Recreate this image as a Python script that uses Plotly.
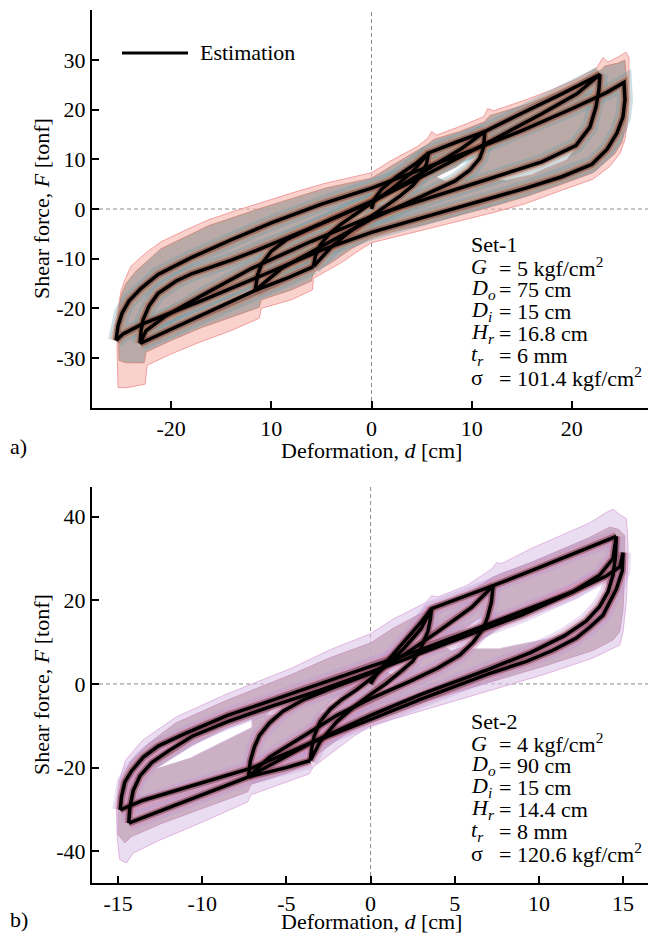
import plotly.graph_objects as go

# ---------------- data ----------------
# Set-1 estimation loops (deformation d [cm], shear force F [tonf])
S1_L6_D = [-5.8, -5.6, -5.1, -4.2, -3.0, -1.5, 0.0, 2.0, 4.0, 5.7, 5.5, 5.0, 4.1, 2.9, 1.4, 0.0, -2.0, -4.0, -5.8]
S1_L6_F = [-11.6, -9.5, -7.2, -5.0, -3.0, -0.8, 1.2, 4.0, 7.3, 11.3, 9.2, 6.9, 4.7, 2.7, 0.5, -1.5, -4.3, -7.6, -11.6]
S1_L11_D = [-11.6, -11.4, -11.0, -10.0, -8.5, -6.0, -3.0, 0.0, 3.0, 6.0, 9.0, 11.3,
            11.2, 10.8, 9.8, 8.3, 5.8, 3.0, 0.0, -3.0, -6.0, -9.0, -11.6]
S1_L11_F = [-16.4, -13.5, -11.2, -8.5, -6.2, -3.8, -1.2, 1.5, 4.8, 8.5, 12.2, 15.6,
            12.5, 10.2, 7.8, 5.6, 3.2, 0.7, -2.0, -5.3, -8.6, -12.0, -16.4]
S1_L23_D = [-23.1, -23.0, -22.8, -22.2, -21.3, -19.5, -17.9, -14.0, -11.3, -6.0, 0.0, 6.0, 12.0, 17.0, 20.5, 22.8,
            22.7, 22.4, 21.8, 20.4, 17.0, 12.1, 6.0, 0.0, -6.0, -12.0, -17.0, -20.5, -22.5, -23.1]
S1_L23_F = [-27.1, -24.5, -22.3, -19.5, -17.0, -14.5, -13.0, -10.3, -8.2, -3.8, 1.5, 7.5, 13.8, 19.2, 23.2, 27.1,
            24.0, 20.5, 16.5, 12.8, 9.5, 6.3, 2.3, -1.5, -6.5, -12.0, -17.5, -21.5, -24.5, -27.1]
S1_L25_D = [-25.5, -25.3, -24.9, -24.2, -23.0, -21.3, -18.0, -14.0, -10.0, -5.0, 0.0, 5.0, 10.0, 15.0, 20.0, 23.5, 25.2,
            25.3, 25.1, 24.5, 23.5, 22.0, 19.0, 15.4, 10.0, 5.0, 0.0, -5.0, -11.3, -17.0, -22.9, -24.8, -25.5]
S1_L25_F = [-26.5, -23.5, -21.0, -18.5, -16.0, -13.2, -9.8, -6.2, -2.8, 1.0, 4.2, 8.0, 11.8, 15.8, 20.2, 23.5, 25.5,
            22.0, 18.5, 15.3, 12.0, 9.0, 6.5, 4.2, 1.0, -1.8, -4.7, -8.3, -13.7, -18.5, -23.2, -25.2, -26.5]
S1_ENV_POS_D = [0.0, 0.3, 1.0, 2.5, 4.5, 5.7, 8.5, 11.3, 15.0, 19.0, 22.8]
S1_ENV_POS_F = [0.0, 2.0, 4.0, 6.5, 9.3, 11.3, 13.5, 15.6, 19.3, 23.2, 27.1]
S1_ENV_NEG_D = [-5.8, -8.5, -11.6, -15.0, -19.0, -23.1]
S1_ENV_NEG_F = [-11.6, -14.0, -16.4, -19.6, -23.3, -27.1]

# Set-1 simulated-ensemble envelopes (outer fringe and dense core) and white gaps
S1_OUTER_D = [-25.3, -25.4, -25.3, -25.0, -24.6, -24.0, -22.5, -21.0, -18.5, -16.3, -13.5, -11.3, -8.0, -4.6, -2.0, 0.0,
              2.1, 4.5, 5.6, 6.0, 6.5, 8.8, 11.2, 11.6, 12.2, 15.4, 18.0, 20.4, 22.5, 23.1, 23.6, 24.6, 25.4, 25.7,
              25.7, 25.6, 25.3, 24.8, 23.8, 22.1, 19.0, 15.4, 12.0, 8.8, 5.5, 2.1, 0.0, -1.2, -3.0, -4.5, -5.8, -5.9,
              -8.0, -11.0, -11.2, -14.0, -17.1, -20.0, -22.4, -22.6, -24.4, -25.3]
S1_OUTER_F = [-36.0, -28.0, -20.0, -16.5, -14.2, -11.5, -8.8, -6.6, -4.2, -2.2, -0.3, 1.1, 3.2, 5.2, 6.4, 7.3,
              9.9, 12.5, 14.2, 15.6, 14.9, 16.6, 18.6, 20.2, 19.8, 22.0, 24.0, 26.1, 28.5, 30.5, 29.6, 30.6, 31.6, 30.5,
              25.0, 18.0, 14.0, 11.2, 8.6, 6.0, 3.8, 1.1, -0.8, -2.4, -4.0, -5.6, -6.8, -8.3, -10.8, -12.5, -14.0, -16.3,
              -18.3, -20.0, -22.0, -24.5, -26.8, -29.2, -31.5, -35.3, -36.0, -36.0]
S1_CORE_D = [-25.2, -25.3, -25.0, -24.5, -23.5, -21.0, -16.3, -11.3, -4.6, 0.0, 2.1, 5.6, 6.2, 8.8, 11.3, 11.8, 15.4,
             20.4, 22.9, 23.3, 24.6, 25.3, 25.5, 25.4, 25.0, 24.3, 22.1, 19.0, 15.4, 12.0, 8.8, 5.5, 2.1, 0.0, -2.0,
             -4.0, -5.8, -6.0, -8.0, -11.0, -11.2, -14.0, -17.1, -20.0, -22.5, -22.7, -24.5, -25.2]
S1_CORE_F = [-30.5, -22.0, -17.5, -15.0, -12.5, -8.0, -3.4, 0.0, 4.2, 6.2, 8.8, 13.0, 14.0, 15.6, 17.6, 18.8, 21.0,
             25.0, 28.0, 28.8, 29.4, 30.0, 25.0, 17.0, 13.5, 11.2, 7.3, 5.0, 2.5, 0.5, -1.2, -3.0, -4.6, -5.8, -8.0,
             -10.8, -12.8, -14.5, -16.3, -18.3, -19.8, -21.8, -24.0, -26.5, -28.8, -31.0, -31.0, -30.5]
S1_GAP1_D = [6.5, 8.5, 10.8, 10.5, 9.0, 7.5]
S1_GAP1_F = [6.5, 8.5, 12.5, 9.0, 6.5, 5.5]
S1_GAP2_D = [11.5, 14.0, 17.5, 20.5, 19.5, 16.0, 13.5]
S1_GAP2_F = [6.2, 8.3, 10.0, 12.5, 10.0, 7.0, 5.8]
S1_GAP3_D = [0.5, 2.5, 4.5, 4.3, 2.8, 1.5]
S1_GAP3_F = [1.0, 3.8, 7.0, 4.2, 1.8, 0.6]
S1_GAP4_D = [-4.3, -2.5, -0.6, -1.5, -3.0]
S1_GAP4_F = [-4.2, -2.5, -0.8, -2.8, -4.6]

# Set-2 estimation loops
S2_L36_D = [-3.58, -3.5, -3.35, -3.0, -2.4, -1.7, -0.8, 0.0, 1.0, 2.0, 3.0, 3.62,
            3.55, 3.4, 3.0, 2.5, 1.8, 0.9, 0.0, -1.0, -2.0, -3.0, -3.58]
S2_L36_F = [-18.3, -15.5, -12.5, -9.0, -6.0, -3.7, -1.3, 1.2, 4.6, 8.6, 13.2, 18.0,
            15.5, 12.5, 8.7, 5.4, 3.0, 0.0, -2.5, -5.5, -9.0, -13.8, -18.3]
S2_L72_D = [-7.25, -7.15, -6.9, -6.6, -6.0, -5.2, -4.0, -2.3, 0.0, 2.0, 4.0, 6.0, 7.28,
            7.18, 6.95, 6.7, 6.1, 5.3, 4.0, 2.33, 0.0, -2.0, -4.0, -6.0, -7.25]
S2_L72_F = [-22.2, -18.5, -15.0, -12.3, -9.3, -6.5, -3.8, -1.0, 2.5, 7.0, 12.5, 18.3, 23.5,
            19.6, 16.0, 13.3, 10.0, 6.9, 3.8, 0.6, -3.5, -7.5, -12.5, -17.5, -22.2]
S2_L144_D = [-14.37, -14.3, -14.1, -13.7, -13.0, -12.0, -10.6, -8.5, -6.0, -3.0, 0.0, 3.0, 6.0, 9.0, 12.0, 13.6, 14.4, 14.6,
             14.55, 14.4, 14.1, 13.6, 12.8, 11.5, 9.5, 7.0, 5.0, 3.0, 0.0, -3.5, -7.25, -10.0, -12.5, -14.37]
S2_L144_F = [-33.3, -29.5, -25.5, -22.0, -18.8, -16.0, -12.5, -9.0, -5.5, -1.5, 2.8, 7.5, 12.0, 16.5, 22.0, 26.0, 30.0, 35.3,
             30.5, 26.0, 22.0, 18.5, 15.0, 11.5, 7.5, 3.5, 0.5, -2.5, -7.5, -14.0, -22.2, -26.5, -30.3, -33.3]
S2_L15_D = [-14.87, -14.8, -14.6, -14.2, -13.5, -12.6, -11.0, -8.5, -6.65, -4.0, -2.7, 0.0, 3.0, 6.0, 9.0, 12.0, 14.0, 14.8, 15.0,
            14.95, 14.6, 14.2, 13.8, 13.0, 12.2, 10.8, 9.26, 7.0, 5.3, 3.0, 0.0, -3.5, -7.0, -10.6, -13.5, -14.87]
S2_L15_F = [-30.1, -27.0, -23.5, -20.8, -17.5, -14.8, -11.8, -7.5, -5.0, -1.3, 0.4, 4.2, 8.2, 12.8, 17.3, 22.0, 25.8, 28.0, 31.4,
            27.0, 22.7, 19.5, 16.4, 13.5, 10.9, 8.0, 5.4, 2.4, -0.2, -3.6, -8.5, -14.0, -20.0, -24.4, -27.8, -30.1]
S2_ENV_POS_D = [0.0, 0.3, 1.0, 2.0, 3.0, 3.62, 5.0, 7.28, 10.0, 12.5, 14.6]
S2_ENV_POS_F = [0.0, 2.0, 5.5, 10.0, 14.8, 18.0, 20.0, 23.5, 27.8, 31.8, 35.3]
S2_ENV_NEG_D = [-3.58, -5.0, -7.25]
S2_ENV_NEG_F = [-18.3, -20.0, -22.2]

# Set-2 simulated-ensemble envelopes and white gaps
S2_OUTER_D = [-15.05, -15.1, -14.97, -14.57, -13.58, -11.6, -8.6, -4.67, -2.4, 0.0, 1.34, 3.3, 3.62, 4.0, 5.7, 7.2, 7.48,
              7.8, 9.5, 11.24, 13.0, 14.0, 14.4, 14.8, 15.2, 15.3, 15.2, 15.0, 14.8, 13.2, 10.25, 6.3, 2.33, 0.0, -1.0,
              -2.4, -3.4, -3.65, -5.0, -7.1, -7.3, -10.14, -12.5, -14.1, -14.5, -14.9, -15.05]
S2_OUTER_F = [-37.0, -30.0, -23.8, -18.3, -13.6, -8.0, -2.5, 3.8, 8.2, 12.0, 15.5, 19.5, 21.1, 20.8, 23.5, 27.5, 29.0,
              28.8, 32.3, 35.3, 38.5, 41.0, 41.8, 40.5, 39.5, 33.0, 20.0, 12.5, 9.3, 6.2, 2.2, -2.5, -7.3, -10.0, -12.5,
              -16.7, -19.8, -21.5, -23.5, -26.5, -28.2, -33.3, -37.3, -40.4, -42.8, -42.0, -37.0]
S2_CORE_D = [-15.0, -15.0, -14.8, -14.3, -13.3, -11.6, -8.6, -4.67, -2.4, 0.0, 1.34, 3.3, 3.7, 5.7, 7.3, 7.7, 9.5, 11.24,
             13.0, 14.2, 14.7, 15.1, 15.1, 15.0, 14.8, 14.4, 13.2, 10.25, 6.3, 2.33, 0.0, -1.0, -2.4, -3.5, -3.7, -5.0,
             -7.1, -7.3, -10.14, -12.5, -14.2, -14.6, -15.0]
S2_CORE_F = [-36.0, -28.0, -23.0, -18.8, -14.6, -9.4, -4.0, 2.3, 6.3, 9.8, 13.3, 17.5, 19.0, 21.5, 25.6, 26.3, 29.0, 32.0,
             35.0, 37.5, 37.0, 35.5, 28.0, 18.0, 12.5, 10.5, 8.0, 4.2, -0.5, -5.2, -8.0, -10.5, -14.5, -17.8, -19.3, -21.3,
             -24.0, -25.8, -30.0, -33.5, -36.5, -38.0, -36.0]
S2_GAP1_D = [-12.79, -10.61, -8.63, -7.05, -7.05, -8.63, -10.61]
S2_GAP1_F = [-20.3, -14.8, -10.8, -8.4, -10.4, -13.6, -17.5]
S2_GAP2_D = [5.9, 8.9, 11.8, 13.9, 14.3, 13.0, 10.65, 7.7]
S2_GAP2_F = [8.5, 16.8, 21.5, 25.1, 21.5, 14.4, 10.9, 8.5]
S2_GAP3_D = [4.2, 5.5, 6.6, 6.6, 5.8, 4.8]
S2_GAP3_F = [9.5, 13.0, 16.0, 12.5, 9.3, 8.0]
S2_GAP4_D = [0.7, 2.0, 3.2, 3.1, 2.3, 1.4]
S2_GAP4_F = [3.5, 6.5, 10.0, 6.5, 3.5, 2.0]
S2_GAP5_D = [-6.2, -5.5, -4.2, -3.8, -4.5, -5.5]
S2_GAP5_F = [-7.5, -4.5, -1.5, -3.0, -5.5, -7.2]
S2_GAP6_D = [-3.0, -2.3, -1.0, -1.2, -2.0]
S2_GAP6_F = [-7.0, -4.0, -1.0, -3.0, -5.5]

# Tick labels as printed in the reference
S1_XTICKS = [-20, -10, 0, 10, 20]
S1_XTEXT = ["-20", "10", "0", "10", "20"]
S1_YTICKS = [-30, -20, -10, 0, 10, 20, 30]
S1_YTEXT = ["-30", "-20", "-10", "0", "10", "20", "30"]
S2_XTICKS = [-15, -10, -5, 0, 5, 10, 15]
S2_XTEXT = ["-15", "-10", "-5", "0", "5", "10", "15"]
S2_YTICKS = [-40, -20, 0, 20, 40]
S2_YTEXT = ["-40", "-20", "0", "20", "40"]

S1_PARAMS = [("Set-1", ""), ("<i>G</i>", "= 5 kgf/cm<sup>2</sup>"), ("<i>D<sub>o</sub></i>", "= 75 cm"),
             ("<i>D<sub>i</sub></i>", "= 15 cm"), ("<i>H<sub>r</sub></i>", "= 16.8 cm"),
             ("<i>t<sub>r</sub></i>", "= 6 mm"), ("σ", "= 101.4 kgf/cm<sup>2</sup>")]
S2_PARAMS = [("Set-2", ""), ("<i>G</i>", "= 4 kgf/cm<sup>2</sup>"), ("<i>D<sub>o</sub></i>", "= 90 cm"),
             ("<i>D<sub>i</sub></i>", "= 15 cm"), ("<i>H<sub>r</sub></i>", "= 14.4 cm"),
             ("<i>t<sub>r</sub></i>", "= 8 mm"), ("σ", "= 120.6 kgf/cm<sup>2</sup>")]

# ---------------- figure ----------------
W, H = 648, 937
FONT = "Liberation Serif"
FS = 22


def px_x(p):
    return p / W


def px_y(p):
    return 1 - p / H


fig = go.Figure()


def poly(d, f, fill, line, width, xa, ya):
    fig.add_trace(go.Scatter(x=d, y=f, mode="lines", fill="toself", fillcolor=fill,
                             line=dict(color=line, width=width), hoverinfo="skip",
                             showlegend=False, xaxis=xa, yaxis=ya))


def curve(d, f, xa, ya, color="black", width=3.5):
    fig.add_trace(go.Scatter(x=d, y=f, mode="lines", line=dict(color=color, width=width),
                             hoverinfo="skip", showlegend=False, xaxis=xa, yaxis=ya))


S1_CURVES = [(S1_L6_D, S1_L6_F), (S1_L11_D, S1_L11_F), (S1_L23_D, S1_L23_F), (S1_L25_D, S1_L25_F),
             (S1_ENV_POS_D, S1_ENV_POS_F), (S1_ENV_NEG_D, S1_ENV_NEG_F)]
S2_CURVES = [(S2_L36_D, S2_L36_F), (S2_L72_D, S2_L72_F), (S2_L144_D, S2_L144_F), (S2_L15_D, S2_L15_F),
             (S2_ENV_POS_D, S2_ENV_POS_F), (S2_ENV_NEG_D, S2_ENV_NEG_F)]

# Set-1 ensemble
poly(S1_OUTER_D, S1_OUTER_F, "rgba(245,180,172,0.6)", "rgba(240,145,145,0.85)", 1, "x", "y")
poly(S1_CORE_D, S1_CORE_F, "rgba(170,160,158,0.80)", "rgba(205,130,115,0.8)", 1, "x", "y")
for gd, gf in [(S1_GAP1_D, S1_GAP1_F), (S1_GAP2_D, S1_GAP2_F), (S1_GAP3_D, S1_GAP3_F), (S1_GAP4_D, S1_GAP4_F)]:
    poly(gd, gf, "white", "rgba(220,190,185,0.9)", 1, "x", "y")
for cd, cf in S1_CURVES:
    curve(cd, cf, "x", "y", "rgba(100,155,170,0.32)", 16)
for cd, cf in S1_CURVES:
    curve(cd, cf, "x", "y", "rgba(220,135,95,0.35)", 11)
for cd, cf in S1_CURVES:
    curve(cd, cf, "x", "y", "rgba(130,75,65,0.55)", 7)
for cd, cf in S1_CURVES:
    curve(cd, cf, "x", "y", "black", 3.5)

# Set-2 ensemble
poly(S2_OUTER_D, S2_OUTER_F, "rgba(220,198,232,0.6)", "rgba(220,170,220,0.85)", 1, "x2", "y2")
poly(S2_CORE_D, S2_CORE_F, "rgba(196,165,185,0.80)", "rgba(200,150,190,0.85)", 1, "x2", "y2")
for gd, gf in [(S2_GAP1_D, S2_GAP1_F), (S2_GAP2_D, S2_GAP2_F), (S2_GAP3_D, S2_GAP3_F),
               (S2_GAP4_D, S2_GAP4_F), (S2_GAP5_D, S2_GAP5_F), (S2_GAP6_D, S2_GAP6_F)]:
    poly(gd, gf, "white", "rgba(215,190,225,0.9)", 1, "x2", "y2")
for cd, cf in S2_CURVES:
    curve(cd, cf, "x2", "y2", "rgba(185,150,215,0.30)", 16)
for cd, cf in S2_CURVES:
    curve(cd, cf, "x2", "y2", "rgba(230,140,160,0.30)", 11)
for cd, cf in S2_CURVES:
    curve(cd, cf, "x2", "y2", "rgba(120,60,75,0.55)", 7)
for cd, cf in S2_CURVES:
    curve(cd, cf, "x2", "y2", "black", 3.5)

axis_common = dict(showline=True, linewidth=2, linecolor="black", ticks="inside", ticklen=7,
                   tickwidth=1.5, tickcolor="black", showgrid=False, zeroline=False, mirror=False,
                   tickfont=dict(family=FONT, size=FS, color="black"))

xdom = [px_x(92), 1.0]
fig.update_layout(
    template="none",
    width=W, height=H, margin=dict(l=0, r=0, t=0, b=0),
    paper_bgcolor="white", plot_bgcolor="white", showlegend=False,
    font=dict(family=FONT, size=FS, color="black"),
    xaxis=dict(domain=xdom, range=[-27.9, 27.6], anchor="y", tickmode="array",
               tickvals=S1_XTICKS, ticktext=S1_XTEXT, **axis_common),
    yaxis=dict(domain=[px_y(408), px_y(10)], range=[-40.1, 40.1], anchor="x", tickmode="array",
               tickvals=S1_YTICKS, ticktext=S1_YTEXT, **axis_common),
    xaxis2=dict(domain=xdom, range=[-16.55, 16.48], anchor="y2", tickmode="array",
                tickvals=S2_XTICKS, ticktext=S2_XTEXT, **axis_common),
    yaxis2=dict(domain=[px_y(883), px_y(487)], range=[-47.6, 47.1], anchor="x2", tickmode="array",
                tickvals=S2_YTICKS, ticktext=S2_YTEXT, **axis_common),
)

shapes = []
for xr, yr in [("x", "y"), ("x2", "y2")]:
    dash = dict(color="#8a8a8a", width=1, dash="4px,3px")
    shapes.append(dict(type="line", xref=xr, yref=yr + " domain", x0=0, x1=0, y0=0, y1=1, line=dash, layer="below"))
    shapes.append(dict(type="line", xref=xr + " domain", yref=yr, x0=0, x1=1, y0=0, y1=0, line=dash, layer="below"))
# legend sample line
shapes.append(dict(type="line", xref="paper", yref="paper", x0=px_x(122), x1=px_x(188),
                   y0=px_y(53), y1=px_y(53), line=dict(color="black", width=3)))
fig.update_layout(shapes=shapes)

ann = []


def label(x, y, s, xanchor="left", angle=0):
    ann.append(dict(x=px_x(x), y=px_y(y), xref="paper", yref="paper", text=s, showarrow=False,
                    xanchor=xanchor, yanchor="middle", textangle=angle,
                    font=dict(family=FONT, size=FS, color="black")))


label(198, 53, "Estimation")
for i, (sym, val) in enumerate(S1_PARAMS):
    y = 245 + 22 * i
    label(469, y, sym)
    if val:
        label(497, y, val)
for i, (sym, val) in enumerate(S2_PARAMS):
    y = 721 + 22 * i
    label(469, y, sym)
    if val:
        label(497, y, val)

label(371, 451, "Deformation, <i>d</i> [cm]", "center")
label(371, 921, "Deformation, <i>d</i> [cm]", "center")
label(8, 446, "a)")
label(8, 919, "b)")
for yc in [209, 685]:
    label(41, yc, "Shear force, <i>F</i> [tonf]", "center", -90)
fig.update_layout(annotations=ann)

fig.write_html("out.html")
